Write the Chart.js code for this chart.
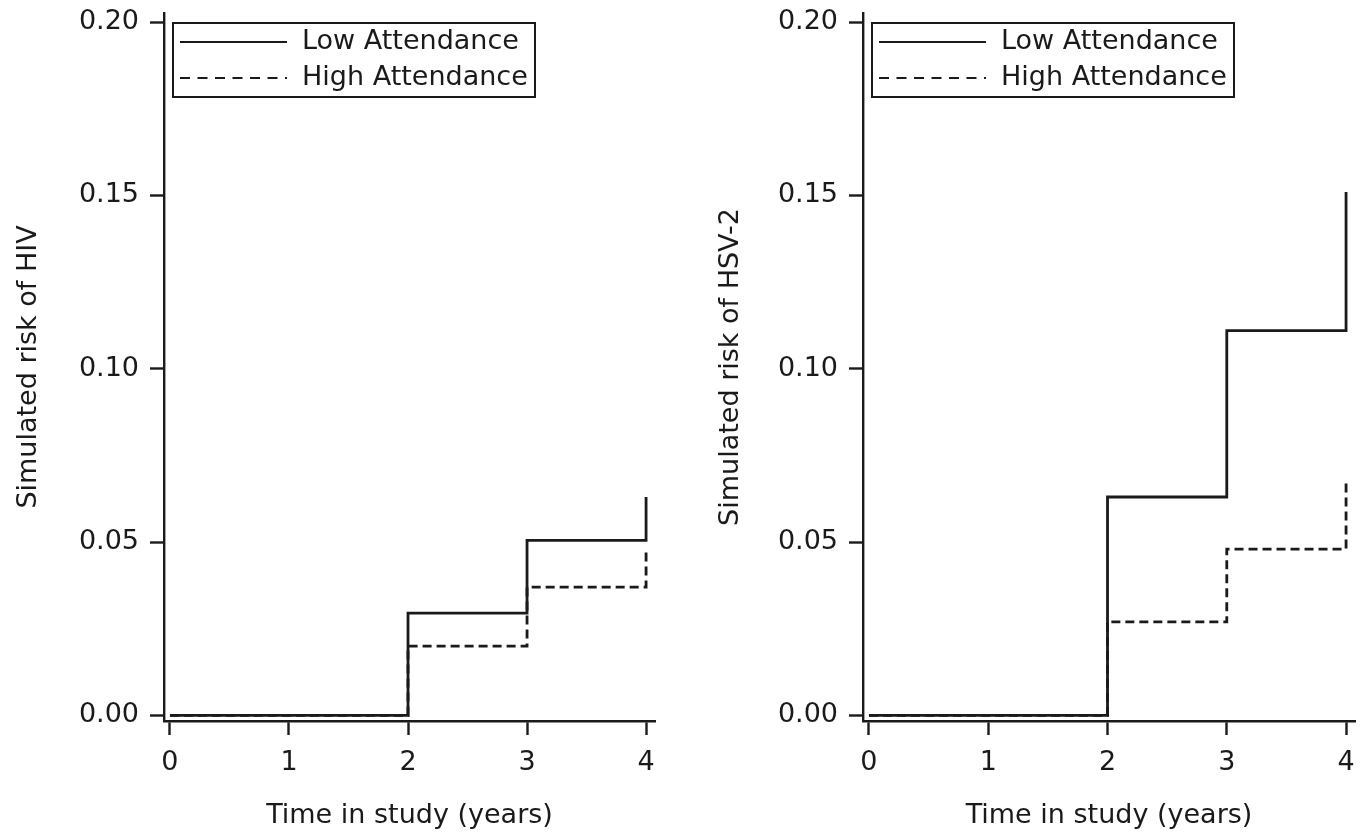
<!DOCTYPE html>
<html>
<head>
<meta charset="utf-8">
<script src="https://cdn.jsdelivr.net/npm/chart.js@4.4.0/dist/chart.umd.min.js"></script>
<style>
  html, body { margin: 0; padding: 0; background: #fff; }
  #wrap { position: relative; width: 1369px; height: 838px; }
  canvas { position: absolute; top: 0; }
</style>
</head>
<body>
<div id="wrap">
  <canvas id="hiv" width="690" height="838" style="left:0;width:690px;height:838px"></canvas>
  <canvas id="hsv" width="679" height="838" style="left:690px;width:679px;height:838px"></canvas>
</div>
<script>
// step points (x = year the risk jumps)
const years = [0, 2, 3, 4]
const xTicks = [0, 1, 2, 3, 4]
const yTicks = [0, 0.05, 0.10, 0.15, 0.20]
const seriesNames = ['Low Attendance', 'High Attendance']

const hivLow = [0, 0.0295, 0.0505, 0.063]
const hivHigh = [0, 0.020, 0.037, 0.047]
const hsvLow = [0, 0.063, 0.111, 0.151]
const hsvHigh = [0, 0.027, 0.048, 0.067]

const ink = '#1a1a1a'
const font = { family: '"DejaVu Sans", Verdana, sans-serif', size: 27, lineHeight: 1.2 }

// boxed legend like the Stata one, drawn inside the plot
const boxLegend = {
    id: 'boxLegend',
    afterDraw(chart) {
        const { ctx, chartArea } = chart
        const bx = chartArea.left + 9, by = chartArea.top + 10
        ctx.save()
        ctx.strokeStyle = ink
        ctx.lineWidth = 2
        ctx.strokeRect(bx, by, 362, 74)
        chart.data.datasets.forEach((ds, i) => {
            const yy = by + 19 + i * 36
            ctx.lineWidth = 2.2
            ctx.setLineDash(ds.borderDash ? [10, 7.5] : [])
            ctx.beginPath()
            ctx.moveTo(bx + 7, yy)
            ctx.lineTo(bx + 114, yy)
            ctx.stroke()
            ctx.setLineDash([])
            ctx.fillStyle = ink
            ctx.font = font.size + 'px ' + font.family
            ctx.textBaseline = 'middle'
            ctx.fillText(ds.label, bx + 129, yy)
        })
        ctx.restore()
    }
}

const makeChart = (id, low, high, yTitle, axisWidth, titlePad, padRight) => {
    return new Chart(document.getElementById(id), {
        type: 'line',
        data: {
            datasets: [{
                label: seriesNames[0],
                data: years.map((x, i) => ({ x: x, y: low[i] })),
                borderColor: ink,
                borderWidth: 2.8,
                stepped: 'before',
                pointRadius: 0,
                fill: false
            }, {
                label: seriesNames[1],
                data: years.map((x, i) => ({ x: x, y: high[i] })),
                borderColor: ink,
                borderWidth: 2.8,
                borderDash: [9, 5],
                stepped: 'before',
                pointRadius: 0,
                fill: false
            }]
        },
        options: {
            responsive: false,
            animation: false,
            layout: { padding: { top: 13, right: padRight, left: 0, bottom: 0 } },
            plugins: { legend: { display: false }, tooltip: { enabled: false } },
            scales: {
                x: {
                    type: 'linear',
                    min: -0.05,
                    max: 4.075,
                    afterBuildTicks: s => { s.ticks = xTicks.map(v => ({ value: v })) },
                    afterFit: s => {
                        s.height = 117
                        s.paddingLeft = 0
                        s.paddingRight = 0
                    },
                    grid: { drawOnChartArea: false, tickLength: 14, tickWidth: 2.4, color: ink },
                    border: { color: ink, width: 2.4 },
                    ticks: { padding: 12, color: ink, font: font, maxRotation: 0, autoSkip: false },
                    title: { display: true, text: 'Time in study (years)', color: ink, font: font, padding: { top: 0, bottom: 6 } }
                },
                y: {
                    min: -0.0016,
                    max: 0.2026,
                    afterBuildTicks: s => { s.ticks = yTicks.map(v => ({ value: v })) },
                    afterFit: s => {
                        s.width = axisWidth
                        s.paddingTop = 0
                        s.paddingBottom = 0
                    },
                    grid: { drawOnChartArea: false, tickLength: 14, tickWidth: 2.4, color: ink },
                    border: { color: ink, width: 2.4 },
                    ticks: { padding: 11, color: ink, font: font, callback: v => v.toFixed(2) },
                    title: { display: true, text: yTitle, color: ink, font: font, padding: { top: titlePad, bottom: 0 } }
                }
            }
        },
        plugins: [boxLegend]
    })
}

makeChart('hiv', hivLow, hivHigh, 'Simulated risk of HIV', 164, 12.3, 35)
makeChart('hsv', hsvLow, hsvHigh, 'Simulated risk of HSV-2', 173, 24.8, 14)
</script>
</body>
</html>
